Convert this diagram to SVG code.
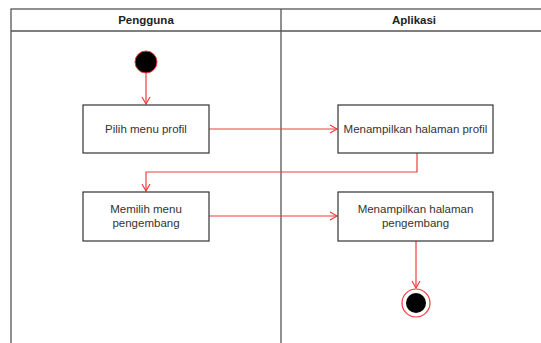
<svg xmlns="http://www.w3.org/2000/svg" width="541" height="343" viewBox="0 0 541 343">
  <style>
    .lane { fill: none; stroke: #555; stroke-width: 1.3; }
    .box { fill: #fff; stroke: #333; stroke-width: 1.2; }
    .head { font-family: "Liberation Sans", Arial, sans-serif; font-size: 11.5px; font-weight: bold; fill: #222; text-anchor: middle; }
    .lbl { font-family: "Liberation Sans", Arial, sans-serif; font-size: 11.5px; fill: #333; text-anchor: middle; }
    .flow { fill: none; stroke: #f03c3c; stroke-width: 1.2; }
  </style>
  <defs>
    <marker id="open" markerWidth="10" markerHeight="10" refX="8" refY="5" orient="auto" markerUnits="userSpaceOnUse">
      <path d="M1,1 L8,5 L1,9" fill="none" stroke="#f03c3c" stroke-width="1.2"/>
    </marker>
  </defs>
  <rect width="541" height="343" fill="#fff"/>

  <!-- swimlanes -->
  <g id="lanes">
    <rect class="lane" x="11" y="9" width="540" height="350"/>
    <line class="lane" x1="11" y1="31" x2="541" y2="31"/>
    <line class="lane" x1="281" y1="9" x2="281" y2="343"/>
    <text class="head" x="146" y="24">Pengguna</text>
    <text class="head" x="414" y="24">Aplikasi</text>
  </g>

  <!-- connectors -->
  <g id="connectors">
    <line class="flow" x1="146" y1="73" x2="146" y2="104" marker-end="url(#open)"/>
    <line class="flow" x1="209" y1="129" x2="337" y2="129" marker-end="url(#open)"/>
    <path class="flow" d="M417,153 V172 H146 V191" marker-end="url(#open)"/>
    <line class="flow" x1="209" y1="216" x2="337" y2="216" marker-end="url(#open)"/>
    <line class="flow" x1="416" y1="241" x2="416" y2="288" marker-end="url(#open)"/>
  </g>

  <g id="start">
    <circle cx="146" cy="62" r="11" fill="#000" stroke="#f03c3c" stroke-width="1"/>
  </g>

  <g id="pilih-menu-profil">
    <rect class="box" x="83" y="105" width="126" height="48"/>
    <text class="lbl" x="146" y="133">Pilih menu profil</text>
  </g>

  <g id="menampilkan-profil">
    <rect class="box" x="338" y="105" width="155" height="48"/>
    <text class="lbl" x="415.5" y="133">Menampilkan halaman profil</text>
  </g>

  <g id="memilih-pengembang">
    <rect class="box" x="83" y="192" width="126" height="49"/>
    <text class="lbl" x="146" y="213">Memilih menu</text>
    <text class="lbl" x="146" y="227">pengembang</text>
  </g>

  <g id="menampilkan-pengembang">
    <rect class="box" x="338" y="192" width="155" height="49"/>
    <text class="lbl" x="415.5" y="213">Menampilkan halaman</text>
    <text class="lbl" x="415.5" y="227">pengembang</text>
  </g>

  <g id="end">
    <circle cx="416" cy="303" r="14" fill="#fff" stroke="#f03c3c" stroke-width="1.2"/>
    <circle cx="416" cy="303" r="10" fill="#000"/>
  </g>
</svg>
